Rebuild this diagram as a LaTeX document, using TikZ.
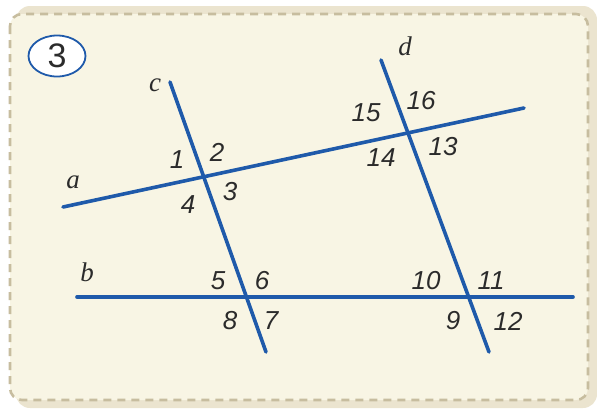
\documentclass[tikz,border=0pt]{standalone}
\usepackage{fontspec}
\setmainfont{Liberation Sans}
\newfontfamily\letterfont{Liberation Serif}
\usepackage{tikz}
\usetikzlibrary{calc,intersections,shapes.geometric}
\definecolor{lineblue}{HTML}{1F5AAA}
\definecolor{cardcream}{HTML}{F8F5E4}
\definecolor{cardedge}{HTML}{EBE4CF}
\definecolor{dashtan}{HTML}{C7BD9F}
\definecolor{numgray}{HTML}{2B2B2B}
\tikzset{
  straight/.style={lineblue, line width=3.6pt, line cap=round},
  angnum/.style={font=\fontsize{26}{27}\selectfont\itshape, text=numgray, inner sep=0pt},
  linename/.style={font=\fontsize{27}{28}\letterfont\itshape, text=numgray, inner sep=0pt}
}

\begin{document}
\begin{tikzpicture}[x=1pt, y=-1pt]
    \useasboundingbox (0,0) rectangle (597,408);
    % card
    \fill[white] (0,0) rectangle (597,408);
    \fill[cardedge, rounded corners=14pt] (16,6) rectangle (597,408);
    \fill[cardcream, rounded corners=12pt] (10,14) rectangle (588,400);
    \draw[dashtan, line width=2.6pt, dash pattern=on 8pt off 6pt, rounded corners=12pt]
        (10,14) rectangle (588,400);
    % exercise number
    \node[draw=lineblue, line width=1.8pt, fill=white, ellipse, minimum width=57pt, minimum height=41pt,
          font=\fontsize{34}{35}\selectfont, text=numgray, inner sep=0pt] (num) at (57,56) {3};
    % end points of the lines
    \coordinate (A1) at (63,207);
    \coordinate (A2) at (524,108);
    \coordinate (B1) at (77,297);
    \coordinate (B2) at (573,297);
    \coordinate (C1) at (170,82);
    \coordinate (C2) at (266,352);
    \coordinate (D1) at (381,60);
    \coordinate (D2) at (489,352);
    \draw[straight] (A1) -- (A2);
    \draw[straight] (B1) -- (B2);
    \draw[straight] (C1) -- (C2);
    \draw[straight] (D1) -- (D2);
    % line names
    \node[linename] (la) at (73,182) {a};
    \node[linename] (lb) at (87,272) {b};
    \node[linename] (lc) at (155,85) {c};
    \node[linename] (ld) at (405,46) {d};
    % angles at a, c
    \node[angnum] (n1) at (177,160) {1};
    \node[angnum] (n2) at (217,152) {2};
    \node[angnum] (n3) at (230,192) {3};
    \node[angnum] (n4) at (188,205) {4};
    % angles at b, c
    \node[angnum] (n5) at (218,281) {5};
    \node[angnum] (n6) at (262,281) {6};
    \node[angnum] (n7) at (271,321) {7};
    \node[angnum] (n8) at (230,321) {8};
    % angles at b, d
    \node[angnum] (n9) at (453,321) {9};
    \node[angnum] (n10) at (426,281) {10};
    \node[angnum] (n11) at (491,281) {11};
    \node[angnum] (n12) at (508,321) {12};
    % angles at a, d
    \node[angnum] (n13) at (443,147) {13};
    \node[angnum] (n14) at (381,158) {14};
    \node[angnum] (n15) at (366,113) {15};
    \node[angnum] (n16) at (421,101) {16};
\end{tikzpicture}
\end{document}
